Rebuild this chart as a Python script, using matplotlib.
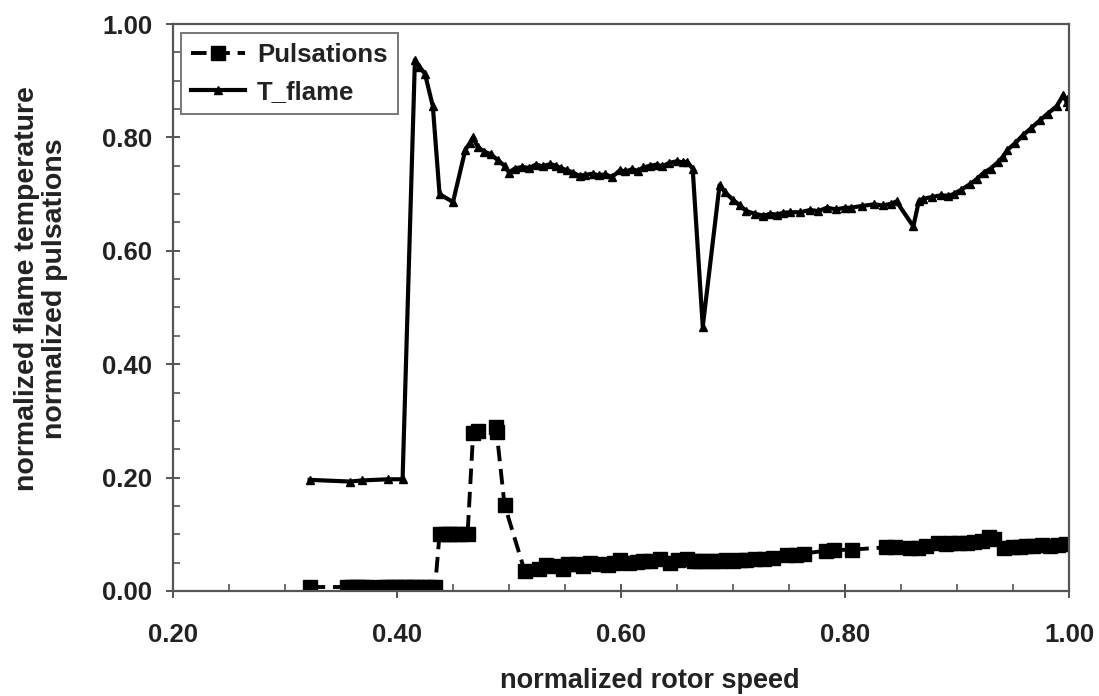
import matplotlib
matplotlib.use("Agg")
import matplotlib.pyplot as plt
from matplotlib.ticker import MultipleLocator, FormatStrFormatter

plt.rcParams['font.family'] = ['Liberation Sans', 'DejaVu Sans']

# normalized rotor speed vs. normalized pulsation amplitude
puls_x = [0.322, 0.355, 0.360, 0.364, 0.369, 0.373, 0.387, 0.391, 0.396, 0.400,
          0.405, 0.409, 0.414, 0.418, 0.424, 0.429, 0.434, 0.438, 0.443, 0.447,
          0.452, 0.456, 0.463, 0.468, 0.472, 0.488, 0.489, 0.496, 0.514, 0.527,
          0.533, 0.540, 0.548, 0.553, 0.561, 0.566, 0.572, 0.580, 0.588, 0.594,
          0.599, 0.607, 0.614, 0.620, 0.626, 0.635, 0.644, 0.651, 0.659, 0.665,
          0.670, 0.676, 0.682, 0.688, 0.694, 0.700, 0.706, 0.712, 0.720, 0.728,
          0.736, 0.748, 0.756, 0.763, 0.783, 0.790, 0.806, 0.837, 0.845, 0.858,
          0.865, 0.872, 0.883, 0.890, 0.895, 0.902, 0.909, 0.915, 0.922, 0.929,
          0.933, 0.942, 0.950, 0.956, 0.962, 0.968, 0.976, 0.983, 0.990, 0.997]
puls_y = [0.007, 0.007, 0.007, 0.007, 0.007, 0.007, 0.007, 0.007, 0.007, 0.007,
          0.007, 0.007, 0.007, 0.007, 0.007, 0.007, 0.007, 0.100, 0.100, 0.100,
          0.100, 0.100, 0.100, 0.279, 0.282, 0.289, 0.280, 0.152, 0.035, 0.038,
          0.045, 0.044, 0.038, 0.048, 0.047, 0.044, 0.050, 0.048, 0.046, 0.050,
          0.054, 0.050, 0.051, 0.053, 0.052, 0.057, 0.050, 0.054, 0.056, 0.052,
          0.052, 0.053, 0.053, 0.053, 0.054, 0.053, 0.054, 0.055, 0.056, 0.057,
          0.059, 0.064, 0.064, 0.066, 0.071, 0.072, 0.073, 0.077, 0.077, 0.075,
          0.076, 0.080, 0.085, 0.083, 0.084, 0.085, 0.084, 0.086, 0.088, 0.095,
          0.092, 0.076, 0.078, 0.077, 0.079, 0.080, 0.081, 0.080, 0.081, 0.082]

# normalized rotor speed vs. normalized flame temperature
tflame_x = [0.322, 0.358, 0.369, 0.392, 0.405, 0.416, 0.420, 0.425, 0.432, 0.438,
            0.450, 0.461, 0.465, 0.468, 0.472, 0.478, 0.484, 0.490, 0.496, 0.500,
            0.505, 0.512, 0.518, 0.524, 0.530, 0.537, 0.542, 0.546, 0.552, 0.557,
            0.563, 0.568, 0.575, 0.580, 0.586, 0.592, 0.599, 0.604, 0.610, 0.615,
            0.620, 0.626, 0.632, 0.637, 0.643, 0.650, 0.655, 0.659, 0.664, 0.673,
            0.688, 0.693, 0.700, 0.706, 0.712, 0.720, 0.727, 0.733, 0.739, 0.745,
            0.751, 0.760, 0.769, 0.776, 0.784, 0.792, 0.800, 0.805, 0.815, 0.826,
            0.834, 0.841, 0.846, 0.861, 0.866, 0.870, 0.878, 0.886, 0.892, 0.897,
            0.904, 0.912, 0.918, 0.924, 0.930, 0.937, 0.941, 0.945, 0.952, 0.959,
            0.966, 0.974, 0.981, 0.989, 0.995, 0.998, 1.000, 1.000]
tflame_y = [0.196, 0.193, 0.195, 0.197, 0.197, 0.937, 0.925, 0.912, 0.855, 0.700,
            0.686, 0.778, 0.790, 0.800, 0.783, 0.775, 0.770, 0.760, 0.750, 0.738,
            0.745, 0.748, 0.746, 0.752, 0.749, 0.753, 0.750, 0.746, 0.742, 0.738,
            0.732, 0.734, 0.736, 0.733, 0.735, 0.730, 0.742, 0.740, 0.744, 0.741,
            0.747, 0.750, 0.752, 0.749, 0.755, 0.758, 0.756, 0.757, 0.745, 0.466,
            0.716, 0.703, 0.690, 0.680, 0.670, 0.665, 0.662, 0.665, 0.664, 0.667,
            0.668, 0.668, 0.672, 0.670, 0.676, 0.673, 0.676, 0.676, 0.679, 0.682,
            0.680, 0.683, 0.687, 0.643, 0.688, 0.692, 0.695, 0.698, 0.697, 0.700,
            0.708, 0.718, 0.727, 0.738, 0.745, 0.757, 0.766, 0.778, 0.790, 0.804,
            0.816, 0.830, 0.842, 0.855, 0.875, 0.862, 0.872, 0.855]

x_ticks = [0.20, 0.40, 0.60, 0.80, 1.00]
y_ticks = [0.00, 0.20, 0.40, 0.60, 0.80, 1.00]

fig = plt.figure(figsize=(10.99, 6.96), dpi=100)
ax = fig.add_axes([0.1574, 0.1509, 0.8153, 0.8146])

spine_color = '#555555'
text_color = '#222222'
ax.plot(puls_x, puls_y, color='black', linestyle=(0, (4, 2)), linewidth=2.8,
        marker='s', markersize=9.5, label='Pulsations')
ax.plot(tflame_x, tflame_y, color='black', linestyle='-', linewidth=3.0,
        marker='^', markersize=6, label='T_flame')

ax.set_xlim(0.2, 1.0)
ax.set_ylim(0.0, 1.0)
ax.set_xticks(x_ticks)
ax.set_yticks(y_ticks)
ax.xaxis.set_minor_locator(MultipleLocator(0.05))
ax.yaxis.set_minor_locator(MultipleLocator(0.05))
ax.xaxis.set_major_formatter(FormatStrFormatter('%.2f'))
ax.yaxis.set_major_formatter(FormatStrFormatter('%.2f'))

for s in ax.spines.values():
    s.set_color(spine_color)
    s.set_linewidth(1.6)

ax.tick_params(which='major', direction='inout', length=10, width=1.4,
               color=spine_color, labelsize=18.5)
ax.tick_params(axis='x', which='major', pad=18)
ax.tick_params(axis='y', which='major', pad=10)
ax.tick_params(which='minor', direction='in', length=5, width=1.2,
               color=spine_color)
for lbl in ax.get_xticklabels() + ax.get_yticklabels():
    lbl.set_fontweight('bold')
    lbl.set_color(text_color)

ax.set_xlabel('normalized rotor speed', fontsize=19.5, fontweight='bold',
              color=text_color)
ax.set_ylabel('normalized flame temperature\nnormalized pulsations',
              fontsize=20.5, fontweight='bold', color=text_color,
              linespacing=1.1)
ax.xaxis.set_label_coords(0.532, -0.135)
ax.yaxis.set_label_coords(-0.117, 0.534)

leg = ax.legend(loc='upper left', bbox_to_anchor=(0.009, 0.984),
                borderaxespad=0, frameon=True, fancybox=False, shadow=False,
                numpoints=1, handlelength=2.1, handletextpad=0.45,
                borderpad=0.4, labelspacing=0.5,
                prop={'size': 18.5, 'weight': 'bold'})
leg.get_frame().set_edgecolor(spine_color)
leg.get_frame().set_linewidth(1.4)
for t in leg.get_texts():
    t.set_color(text_color)

fig.savefig('out.png', dpi=100, facecolor='white')
